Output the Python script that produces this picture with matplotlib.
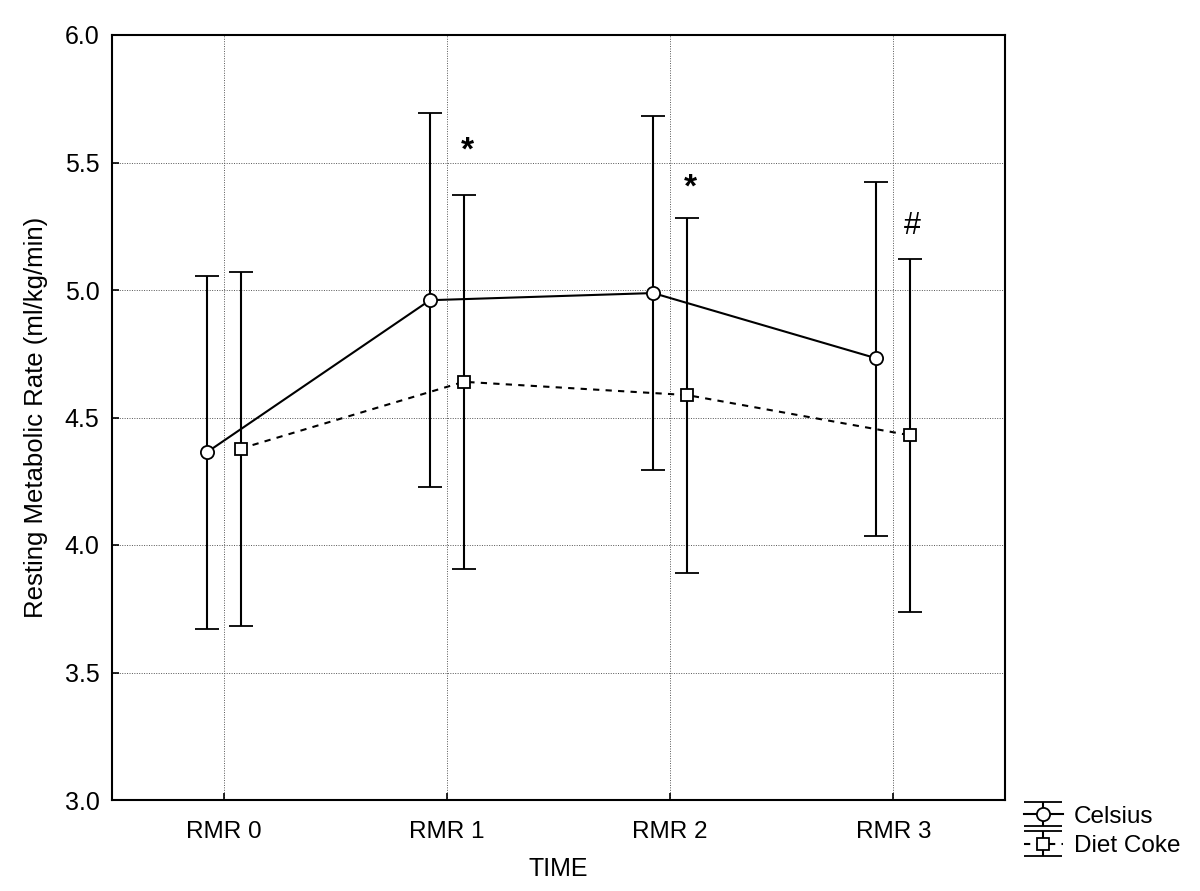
import numpy as np
import matplotlib.pyplot as plt
from matplotlib.lines import Line2D
from matplotlib.legend_handler import HandlerErrorbar

times = ['RMR 0', 'RMR 1', 'RMR 2', 'RMR 3']
celsius_mean = [4.363, 4.960, 4.988, 4.732]
celsius_hi = [5.056, 5.693, 5.683, 5.423]
celsius_lo = [3.670, 4.229, 4.295, 4.037]
coke_mean = [4.378, 4.640, 4.588, 4.430]
coke_hi = [5.071, 5.374, 5.284, 5.122]
coke_lo = [3.684, 3.904, 3.892, 3.739]

plt.rcParams['font.family'] = ['Liberation Sans', 'DejaVu Sans']


class WideCaps(HandlerErrorbar):
    # statistica-style legend: caps as wide as the handle
    def create_artists(self, *args, **kw):
        arts = super().create_artists(*args, **kw)
        for a in arts:
            if isinstance(a, Line2D) and a.get_marker() == '_':
                a.set_markersize(28)
        return arts


fig = plt.figure(figsize=(12, 8.91), dpi=100)
ax = fig.add_axes([112/1200, 1-800/891, 893/1200, 765/891])

x = np.arange(len(times))
off = 0.076
cm = np.array(celsius_mean); dm = np.array(coke_mean)
ax.errorbar(x - off, cm, yerr=[cm - np.array(celsius_lo), np.array(celsius_hi) - cm],
            color='black', lw=1.5, elinewidth=1.5, capsize=8.5, capthick=1.5,
            marker='o', ms=9.5, mfc='white', mec='black', mew=1.3, label='Celsius', zorder=3)
ax.errorbar(x + off, dm, yerr=[dm - np.array(coke_lo), np.array(coke_hi) - dm],
            color='black', lw=1.5, ls=(0, (3, 3)), elinewidth=1.5, capsize=8.5, capthick=1.5,
            marker='s', ms=8.5, mfc='white', mec='black', mew=1.3, label='Diet Coke', zorder=3)

# significance marks above the Diet Coke bars
ax.text(x[1] + off + 0.015, coke_hi[1] + 0.17, '*', ha='center', va='center', fontsize=24, fontweight='bold')
ax.text(x[2] + off + 0.015, coke_hi[2] + 0.115, '*', ha='center', va='center', fontsize=24, fontweight='bold')
ax.text(x[3] + off + 0.01, coke_hi[3] + 0.13, '#', ha='center', va='center', fontsize=22)

ax.set_xlim(-0.5, 3.5)
ax.set_ylim(3.0, 6.0)
ax.set_xticks(x)
ax.set_xticklabels(times, fontsize=17.5)
yt = np.arange(3.0, 6.01, 0.5)
ax.set_yticks(yt)
ax.set_yticklabels(['%.1f' % v for v in yt], fontsize=18)
ax.tick_params(direction='in', length=5, width=1.2)
ax.tick_params(axis='x', pad=15)
ax.tick_params(axis='y', pad=9)
ax.grid(True, color='#555555', ls=(0, (1, 1.5)), lw=0.7)
ax.set_axisbelow(True)
for s in ax.spines.values():
    s.set_linewidth(1.5)
ax.set_xlabel('TIME', fontsize=18, labelpad=10)
ax.set_ylabel('Resting Metabolic Rate (ml/kg/min)', fontsize=18.5, labelpad=12)

fig.legend(loc='upper left', bbox_to_anchor=(1014/1200, 1-796/891), frameon=False,
           fontsize=17.5, handlelength=1.6, handletextpad=0.45, labelspacing=0.3,
           borderaxespad=0, handler_map={type(ax.containers[0]): WideCaps()})

fig.savefig('out.png', dpi=100)
